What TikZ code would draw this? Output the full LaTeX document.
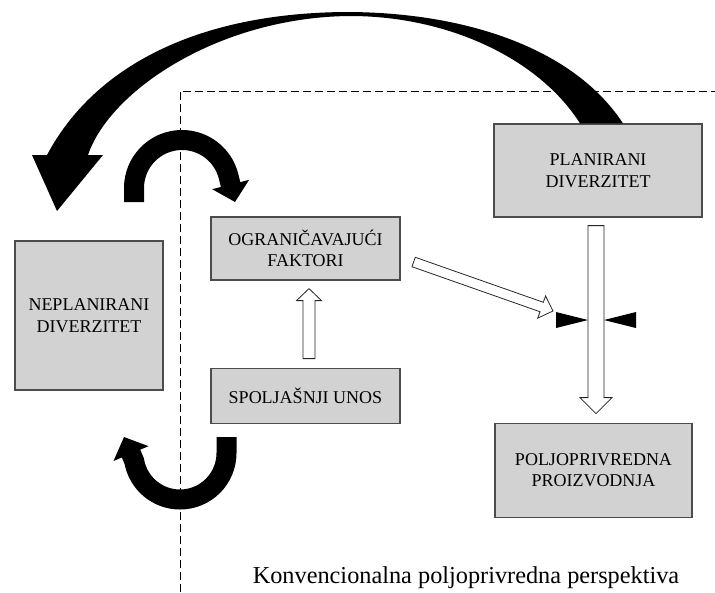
\documentclass[tikz,border=0pt]{standalone}
\usepackage{fontspec}
\setmainfont{Liberation Serif}
\usetikzlibrary{arrows.meta, positioning, calc}
\tikzstyle{box} = [rectangle, draw=black!70, line width=1.2pt, fill=gray!35, align=center, inner sep=0pt, font=\fontsize{18}{21.5}\selectfont]
\tikzstyle{uturn} = [line width=20pt, -{Triangle[width=37pt,length=18pt]}]
\tikzstyle{divider} = [dash pattern=on 8pt off 4pt, line width=0.8pt]
\tikzset{
  hollow/.style n args={3}{draw=black!85, fill=white, line width=0.8pt,
    to path={let \p1=($(\tikztotarget)!#3!(\tikztostart)$) in
      ($(\tikztostart)!#1!90:(\tikztotarget)$) -- ($(\p1)!#1!90:(\tikztotarget)$)
      -- ($(\p1)!#2!90:(\tikztotarget)$) -- (\tikztotarget)
      -- ($(\p1)!#2!-90:(\tikztotarget)$) -- ($(\p1)!#1!-90:(\tikztotarget)$)
      -- ($(\tikztostart)!#1!-90:(\tikztotarget)$) -- cycle}}
}

\begin{document}
\begin{tikzpicture}[x=1pt, y=-1pt]
    \useasboundingbox (0,0) rectangle (715,592);
    % Frame
    \draw [divider] (180,592) -- (180,91) -- (715,91);

    % Nodes
    \node (plan) [box, minimum width=208pt, minimum height=93pt] at (598,170.5) {PLANIRANI\\DIVERZITET};
    \node (ogr) [box, minimum width=189pt, minimum height=63pt] at (305.5,248.5) {OGRANIČAVAJUĆI\\FAKTORI};
    \node (neplan) [box, minimum width=148pt, minimum height=149pt] at (89,315.5) {NEPLANIRANI\\DIVERZITET};
    \node (unos) [box, minimum width=189pt, minimum height=55pt, below=87pt of ogr] {SPOLJAŠNJI UNOS};
    \node (polj) [box, minimum width=197pt, minimum height=94pt, below=205pt of plan, xshift=-4.5pt] {POLJOPRIVREDNA\\PROIZVODNJA};
    \coordinate (valve) at (596,320);

    % Arrows
    \draw [hollow={6pt}{12.5pt}{12pt}] ([xshift=3.5pt,yshift=9pt]unos.north) to ([xshift=3.5pt,yshift=-8pt]ogr.south);
    \draw [hollow={8pt}{16pt}{16pt}] ([xshift=-2pt,yshift=-8pt]plan.south) to ([xshift=2.5pt,yshift=9pt]polj.north);
    \draw [hollow={5pt}{11.7pt}{12pt}] ([xshift=13pt,yshift=-13.5pt]ogr.east) to ([xshift=-43pt,yshift=9pt]valve);
    \fill [shift={(valve)}] (-40,-8) -- (-40,8) -- (-8,0) -- cycle (40,-8) -- (40,8) -- (8,0) -- cycle;

    \fill ([xshift=25pt]plan.north) .. controls (575,50) and (470,13) .. (350,12)
        .. controls (200,12) and (95,65) .. (47,155) -- (32,155) -- (57,211) -- (103,155) -- (88,155)
        .. controls (110,90) and (220,17) .. (350,16) .. controls (450,16) and (540,60) .. ([xshift=-18pt]plan.north) -- cycle;
    \draw [uturn] (134,202) -- (134,188) arc[start angle=180, end angle=345, radius=48] -- (235,202);
    \draw [uturn] (226.5,437) -- (226.5,453) arc[start angle=0, end angle=170, radius=46.5] -- (124,437);

    % Caption
    \node (caption) [anchor=base, font=\fontsize{24.3}{29}\selectfont] at (466,583) {Konvencionalna poljoprivredna perspektiva};
\end{tikzpicture}
\end{document}
